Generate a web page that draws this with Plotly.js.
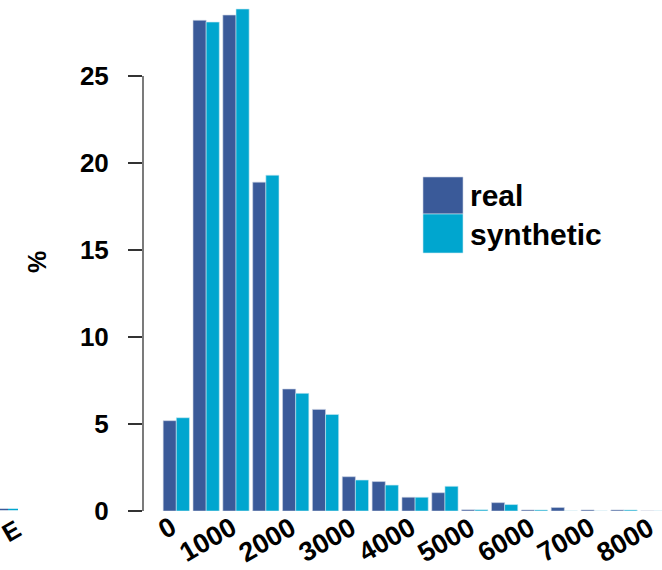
<!DOCTYPE html>
<html>
<head>
<meta charset="utf-8">
<script src="https://cdn.plot.ly/plotly-3.0.1.min.js"></script>
<style>html,body{margin:0;padding:0;background:#fff;}#chart{width:662px;height:570px;}</style>
</head>
<body>
<div id="chart"></div>
<script>
// Bins of 500 (lower edges)
const binStarts = [0,500,1000,1500,2000,2500,3000,3500,4000,4500,5000,5500,6000,6500,7000,7500,8000];
const realPct = [5.19,28.2,28.5,18.9,7.01,5.84,1.97,1.69,0.79,1.05,0.07,0.48,0.06,0.2,0.06,0.06,0];
const synthPct = [5.36,28.1,28.85,19.3,6.76,5.55,1.78,1.49,0.79,1.42,0.07,0.37,0.06,0,0,0.06,0];
const tickVals = [0,1000,2000,3000,4000,5000,6000,7000,8000];
const tickText = ["0","1000","2000","3000","4000","5000","6000","7000","8000"];
const yTicks = [0,5,10,15,20,25];
const seriesNames = ["real","synthetic"];
const colors = ["#3A5A99","#00A6CF"];

const W = 662, H = 570;
const L = 143, R = 0, T = 5, B = 59;
const pw = W - L - R, ph = H - T - B;
const px2paperX = p => (p - L) / pw;
const px2paperY = p => (H - B - p) / ph;

const font = {family: "Liberation Sans, Arial, sans-serif", color: "#000", weight: 700};

const traces = [
  {type:"bar", x: binStarts, y: realPct, name: seriesNames[0],
   marker:{color: colors[0], line:{width:0.6, color:"#c9d1e3"}}},
  {type:"bar", x: binStarts, y: synthPct, name: seriesNames[1],
   marker:{color: colors[1], line:{width:0.6, color:"#c9e9f2"}}}
];

const xLabelAnns = tickVals.map((v, i) => ({
  xref:"x", yref:"paper", x: v + 130, y: px2paperY(509),
  xanchor:"right", yanchor:"top", text: tickText[i], textangle:-30,
  showarrow:false, font:Object.assign({size:27}, font)
}));

const layout = {
  width: W, height: H,
  margin: {l: L, r: R, t: T, b: B, pad: 0},
  paper_bgcolor: "#fff", plot_bgcolor: "#fff",
  barmode: "group", bargap: 0.12, bargroupgap: 0,
  showlegend: false,
  xaxis: {
    range: [-558, 8136], showgrid: false, zeroline: false, showline: false,
    showticklabels: false, ticks: ""
  },
  yaxis: {
    range: [0, 29.08], showgrid: false, zeroline: false, showline: false,
    tickvals: yTicks, ticks: "outside", ticklen: 14, tickwidth: 1.3, tickcolor: "#333",
    ticklabelstandoff: 14,
    tickfont: Object.assign({size: 26}, font),
  },
  shapes: [
    {type:"line", xref:"paper", yref:"y", x0:0, x1:0, y0:0, y1:25, line:{color:"#333", width:1.3}},
    {type:"rect", xref:"paper", yref:"paper", x0:px2paperX(423), x1:px2paperX(463), y0:px2paperY(214), y1:px2paperY(177), fillcolor:colors[0], line:{width:0.6, color:"#c9d1e3"}},
    {type:"rect", xref:"paper", yref:"paper", x0:px2paperX(423), x1:px2paperX(463), y0:px2paperY(253), y1:px2paperY(214), fillcolor:colors[1], line:{width:0.6, color:"#c9e9f2"}},
    {type:"line", xref:"paper", yref:"paper", x0:px2paperX(0), x1:px2paperX(8), y0:px2paperY(509.5), y1:px2paperY(509.5), line:{color:colors[0], width:1.5}},
    {type:"line", xref:"paper", yref:"paper", x0:px2paperX(8), x1:px2paperX(18), y0:px2paperY(509.5), y1:px2paperY(509.5), line:{color:colors[1], width:1.5}}
  ],
  annotations: xLabelAnns.concat([
    {xref:"paper", yref:"paper", x:px2paperX(468), y:px2paperY(195), xanchor:"left", yanchor:"middle", text:"real", showarrow:false, font:Object.assign({size:30}, font)},
    {xref:"paper", yref:"paper", x:px2paperX(468), y:px2paperY(234), xanchor:"left", yanchor:"middle", text:"synthetic", showarrow:false, font:Object.assign({size:30}, font)},
    {xref:"paper", yref:"paper", x:px2paperX(37), y:px2paperY(262), xanchor:"center", yanchor:"middle", text:"%", textangle:-90, showarrow:false, font:Object.assign({size:25}, font)},
    {xref:"paper", yref:"paper", x:px2paperX(-6), y:px2paperY(531), xanchor:"left", yanchor:"middle", text:"E", textangle:-30, showarrow:false, font:Object.assign({size:25}, font)}
  ])
};

Plotly.newPlot("chart", traces, layout, {displayModeBar:false, staticPlot:true});
</script>
</body>
</html>
